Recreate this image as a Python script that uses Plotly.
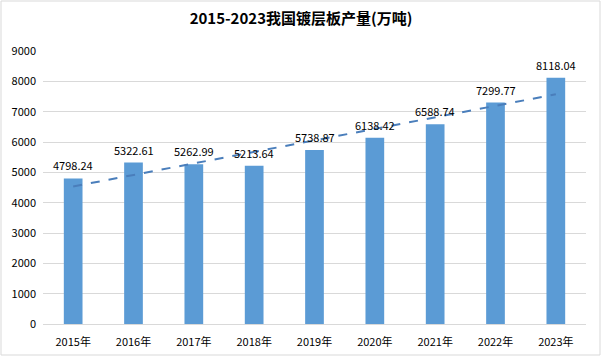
import numpy as np
import plotly.graph_objects as go

years = ["2015年", "2016年", "2017年", "2018年", "2019年", "2020年", "2021年", "2022年", "2023年"]
output = [4798.24, 5322.61, 5262.99, 5213.64, 5738.87, 6138.42, 6588.74, 7299.77, 8118.04]
y_ticks = [0, 1000, 2000, 3000, 4000, 5000, 6000, 7000, 8000, 9000]
title_text = "2015-2023我国镀层板产量(万吨)"

W, H = 602, 357
ml, mr, mt, mb = 43, 16, 51, 33
pw, ph = W - ml - mr, H - mt - mb

idx = np.arange(1, len(output) + 1)
slope, intercept = np.polyfit(idx, output, 1)
trend = slope * idx + intercept

font_fam = "Noto Sans CJK SC, Liberation Sans, sans-serif"

fig = go.Figure()
fig.add_trace(go.Scatter(
    x=years, y=trend, mode="lines",
    line=dict(color="#4A7EBB", width=2, dash="dash"),
    showlegend=False, hoverinfo="skip",
))
fig.add_trace(go.Bar(
    x=years, y=output,
    marker=dict(color="#5B9BD5", line=dict(width=0)),
    showlegend=False,
))
for yr, v in zip(years, output):
    fig.add_annotation(x=yr, y=v, text=f"{v:.2f}", showarrow=False,
                       yanchor="middle", yshift=13,
                       font=dict(size=11, color="#000000", family=font_fam))

def px_x(p):
    return (p - ml) / pw

def px_y(p):
    return (H - mb - p) / ph

fig.update_layout(
    width=W, height=H,
    margin=dict(l=ml, r=mr, t=mt, b=mb, autoexpand=False),
    paper_bgcolor="white", plot_bgcolor="white",
    bargap=0.69,
    title=dict(text=f"<b>{title_text}</b>", x=0.5, xanchor="center",
               y=1 - 19 / H, yanchor="middle",
               font=dict(size=15, color="#000000", family=font_fam)),
    xaxis=dict(showgrid=False, showline=True, linecolor="#D9D9D9", linewidth=1,
               ticks="", ticklabelstandoff=8, automargin=False,
               tickfont=dict(size=11, color="#000000", family=font_fam)),
    yaxis=dict(range=[0, 9000], tickvals=y_ticks, showgrid=True, gridcolor="#D9D9D9",
               gridwidth=1, zeroline=False, showline=False, ticks="", automargin=False,
               tickfont=dict(size=11, color="#000000", family=font_fam),
               ticklabelstandoff=6),
    shapes=[dict(type="rect", xref="paper", yref="paper",
                 x0=px_x(1), x1=px_x(W - 2), y0=px_y(H - 2), y1=px_y(1),
                 line=dict(color="#D9D9D9", width=1), fillcolor="rgba(0,0,0,0)",
                 layer="below")],
)

fig.write_html("out.html", config={"displayModeBar": False},
               post_script="document.body.style.margin='0';document.body.style.overflow='hidden';")
